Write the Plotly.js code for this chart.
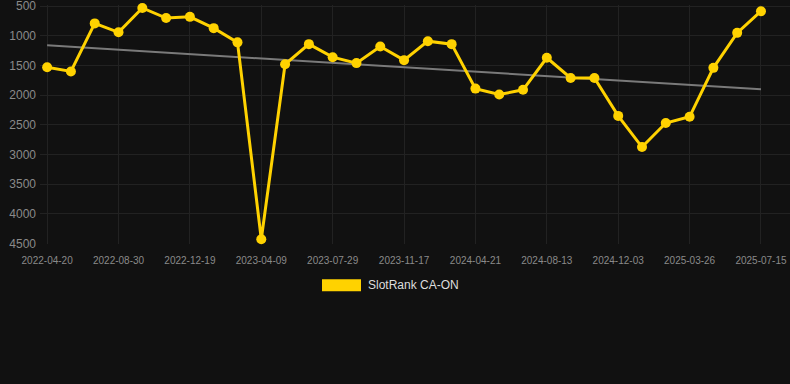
<!DOCTYPE html>
<html>
<head>
<meta charset="utf-8">
<script src="https://cdn.plot.ly/plotly-3.0.1.min.js"></script>
<style>
  html, body { margin: 0; padding: 0; background: #111111; }
  #chart { width: 790px; height: 384px; }
</style>
</head>
<body>
<div id="chart"></div>
<script>
const dates = [
  "2022-04-20", "2022-06-03", "2022-07-17",
  "2022-08-30", "2022-10-06", "2022-11-12",
  "2022-12-19", "2023-01-25", "2023-03-03",
  "2023-04-09", "2023-05-16", "2023-06-22",
  "2023-07-29", "2023-09-04", "2023-10-11",
  "2023-11-17", "2023-12-29", "2024-02-19",
  "2024-04-21", "2024-05-29", "2024-07-06",
  "2024-08-13", "2024-09-19", "2024-10-27",
  "2024-12-03", "2025-01-09", "2025-02-16",
  "2025-03-26", "2025-05-01", "2025-06-08",
  "2025-07-15"
];
const rank = [
  1530, 1600, 790,
  940, 530, 700,
  680, 870, 1110,
  4430, 1480, 1140,
  1360, 1460, 1180,
  1410, 1090, 1140,
  1890, 1990, 1910,
  1370, 1710, 1710,
  2350, 2875, 2470,
  2365, 1540, 950,
  585
];
const tickLabels = [
  "2022-04-20", "2022-08-30", "2022-12-19", "2023-04-09", "2023-07-29",
  "2023-11-17", "2024-04-21", "2024-08-13", "2024-12-03", "2025-03-26", "2025-07-15"
];
const trendDates = ["2022-04-20", "2025-07-15"];
const trendValues = [1160, 1900];
const yTicks = [500, 1000, 1500, 2000, 2500, 3000, 3500, 4000, 4500];
const seriesName = "SlotRank CA-ON";

const gold = "#FFD200";
const font = "Liberation Sans, Arial, Helvetica, sans-serif";

const traces = [
  {
    x: trendDates, y: trendValues, type: "scatter", mode: "lines",
    line: { color: "#7a7a7a", width: 2 }, hoverinfo: "skip", showlegend: false,
    cliponaxis: false
  },
  {
    x: dates, y: rank, type: "scatter", mode: "lines+markers", name: seriesName,
    line: { color: gold, width: 3 },
    marker: { color: gold, size: 10 },
    showlegend: false, cliponaxis: false
  }
];

const layout = {
  width: 790, height: 384,
  paper_bgcolor: "#111111", plot_bgcolor: "#111111",
  margin: { l: 40, r: 0, t: 5, b: 140 },
  font: { family: font, color: "#8a8a8a" },
  showlegend: false,
  xaxis: {
    type: "category",
    categoryorder: "array", categoryarray: dates,
    range: [-0.3, 31.22],
    tickmode: "array", tickvals: tickLabels, ticktext: tickLabels,
    tickfont: { size: 10, color: "#8a8a8a" },
    showgrid: true, gridcolor: "#222222", gridwidth: 1,
    zeroline: false, showline: false,
    ticks: "outside", ticklen: 7, tickcolor: "rgba(0,0,0,0)",
    tickangle: 0
  },
  yaxis: {
    range: [4510, 480],
    tickmode: "array", tickvals: yTicks, ticktext: yTicks.map(String),
    tickfont: { size: 12, color: "#8a8a8a" },
    showgrid: true, gridcolor: "#222222", gridwidth: 1,
    zeroline: false, showline: false, ticks: "", ticklen: 0,
    ticklabelstandoff: 3, ticklabeloverflow: "allow"
  },
  shapes: [
    {
      type: "rect", xref: "paper", yref: "paper",
      x0: 0.376, x1: 0.428, y0: -0.1477, y1: -0.198,
      fillcolor: gold, line: { width: 0 }
    }
  ],
  annotations: [
    {
      xref: "paper", yref: "paper", x: 0.435, y: -0.173,
      xanchor: "left", yanchor: "middle", showarrow: false,
      text: seriesName, font: { family: font, size: 12, color: "#dddddd" }
    }
  ]
};

Plotly.newPlot("chart", traces, layout, { displayModeBar: false, staticPlot: true });
</script>
</body>
</html>
